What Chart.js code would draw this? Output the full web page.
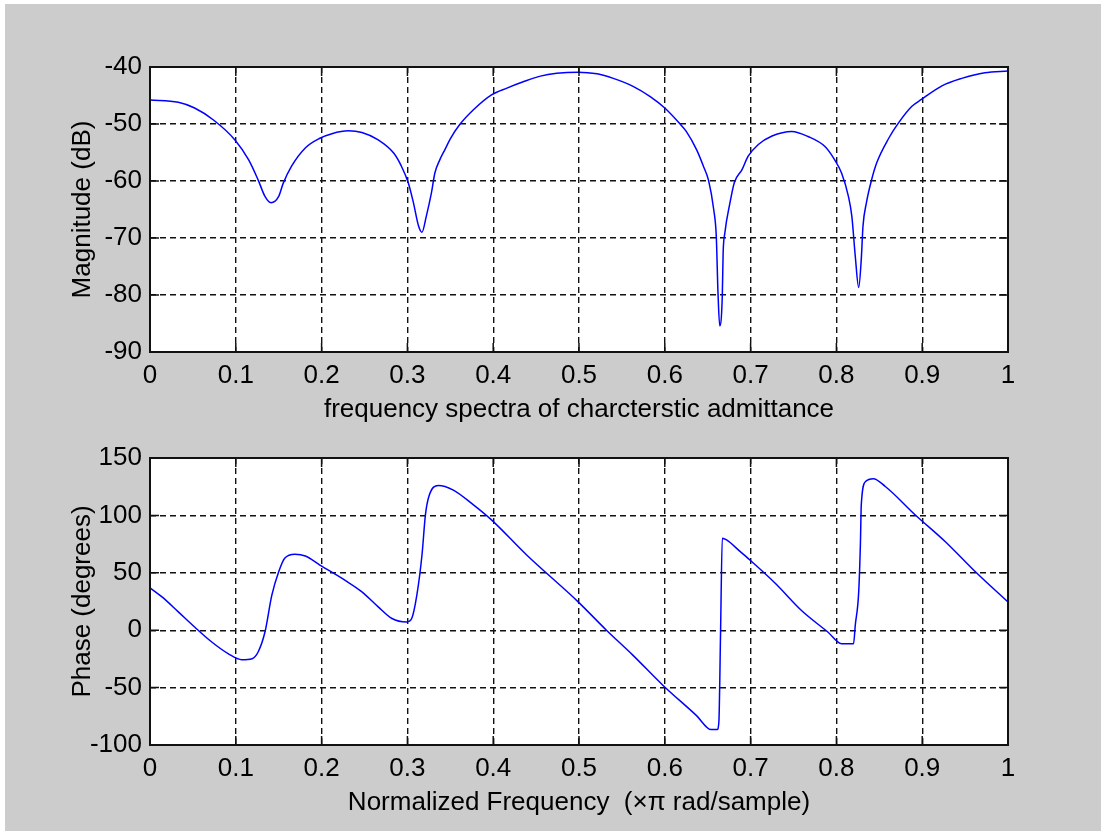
<!DOCTYPE html>
<html>
<head>
<meta charset="utf-8">
<title>frequency spectra</title>
<script src="https://cdn.jsdelivr.net/npm/chart.js@4.4.1/dist/chart.umd.min.js"></script>
<style>
  html, body { margin: 0; padding: 0; background: #fff; width: 1101px; height: 831px; overflow: hidden; }
  #fig { position: absolute; left: 5px; top: 4px; width: 1096px; height: 827px; background: #cccccc; }
  canvas { position: absolute; left: 0; }
  #mag { top: 0; }
  #phase { top: 430px; }
</style>
</head>
<body>
<div id="fig"></div>
<canvas id="mag" width="1101" height="430"></canvas>
<canvas id="phase" width="1101" height="401"></canvas>
<script>
// magnitude response (normalized frequency, dB)
const magFreq = [0, 0.033, 0.052, 0.074, 0.099, 0.115, 0.126, 0.134, 0.141, 0.150,
  0.155, 0.165, 0.181, 0.198, 0.212, 0.231, 0.247, 0.266, 0.284, 0.293,
  0.301, 0.307, 0.313, 0.317, 0.322, 0.328, 0.332, 0.338, 0.344, 0.350,
  0.361, 0.377, 0.398, 0.416, 0.435, 0.455, 0.474, 0.499, 0.521, 0.540,
  0.563, 0.583, 0.600, 0.616, 0.625, 0.637, 0.645, 0.651, 0.657, 0.660,
  0.662, 0.664, 0.667, 0.668, 0.670, 0.676, 0.681, 0.690, 0.697, 0.709,
  0.725, 0.748, 0.767, 0.787, 0.798, 0.806, 0.814, 0.818, 0.822, 0.826,
  0.829, 0.831, 0.835, 0.841, 0.847, 0.861, 0.872, 0.888, 0.899, 0.923,
  0.946, 0.973, 1.0];
const magDb = [-45.8, -46.2, -47.2, -49.3, -52.8, -56.3, -59.8, -62.7, -63.8, -62.7,
  -60.5, -57.4, -54.2, -52.5, -51.7, -51.2, -51.5, -52.8, -55.1, -57.4,
  -60.3, -63.8, -67.9, -69.0, -66.2, -62.1, -58.6, -56.2, -54.4, -52.6,
  -50.1, -47.5, -44.9, -43.7, -42.6, -41.6, -41.1, -40.9, -41.2, -42.0,
  -43.4, -45.2, -47.2, -49.7, -51.3, -54.5, -57.4, -59.9, -65.0, -69.7,
  -79.6, -85.4, -80.2, -72.6, -69.1, -63.8, -60.3, -58.0, -55.7, -53.6,
  -52.1, -51.3, -52.2, -54.0, -56.3, -58.6, -62.7, -66.2, -73.2, -78.7,
  -73.7, -67.9, -63.8, -59.8, -56.8, -52.5, -49.9, -46.9, -45.7, -43.3,
  -42.0, -41.0, -40.7];

// phase response (normalized frequency, degrees)
const phaseFreq = [0, 0.014, 0.033, 0.052, 0.072, 0.091, 0.107, 0.119, 0.126, 0.134,
  0.142, 0.150, 0.157, 0.169, 0.181, 0.198, 0.227, 0.247, 0.266, 0.282,
  0.299, 0.305, 0.311, 0.317, 0.321, 0.325, 0.336, 0.353, 0.377, 0.398,
  0.439, 0.499, 0.532, 0.563, 0.598, 0.637, 0.654, 0.661, 0.663, 0.665,
  0.667, 0.672, 0.688, 0.697, 0.729, 0.759, 0.790, 0.806, 0.820, 0.822,
  0.826, 0.828, 0.829, 0.834, 0.843, 0.857, 0.892, 0.927, 0.962, 1.0];
const phaseDeg = [36.9, 29, 16, 2.8, -10.3, -20.4, -25.7, -24.8, -19, -1.6,
  30.5, 50.9, 62.6, 66.1, 64.6, 56.7, 43.6, 33.4, 20.3, 10.2,
  7.2, 10.2, 30.5, 65.5, 100.4, 116.4, 126.1, 122.3, 109.2, 96.1,
  65.5, 24.7, 0, -21.9, -48.1, -74.4, -86.6, -86.6, -80.2, -1.6,
  80.1, 78.6, 68.4, 62.6, 40.7, 17.4, -1.6, -11.7, -11.7, 4.3,
  33.4, 75.7, 109.2, 129.5, 131.9, 125.2, 100.4, 77.1, 50.9, 24.5];

const FONT = { family: "'Liberation Sans', Arial, sans-serif", size: 26 };

// white axes area, black box and inward tick marks like MATLAB
const axesBox = {
  id: "axesBox",
  beforeDraw(chart) {
    const { ctx, chartArea: a } = chart;
    ctx.save();
    ctx.fillStyle = "#fff";
    ctx.fillRect(a.left, a.top, a.right - a.left, a.bottom - a.top);
    ctx.restore();
  },
  afterDraw(chart) {
    const { ctx, chartArea: a, scales } = chart;
    const len = 9;
    ctx.save();
    ctx.strokeStyle = "#111";
    ctx.lineWidth = 1.5;
    ctx.beginPath();
    scales.x.ticks.forEach((t, i) => {
      const px = scales.x.getPixelForTick(i);
      ctx.moveTo(px, a.top);
      ctx.lineTo(px, a.top + len);
      ctx.moveTo(px, a.bottom);
      ctx.lineTo(px, a.bottom - len);
    });
    scales.y.ticks.forEach((t, i) => {
      const py = scales.y.getPixelForTick(i);
      ctx.moveTo(a.left, py);
      ctx.lineTo(a.left + len, py);
      ctx.moveTo(a.right, py);
      ctx.lineTo(a.right - len, py);
    });
    ctx.stroke();
    ctx.lineWidth = 2;
    ctx.strokeRect(a.left, a.top, a.right - a.left, a.bottom - a.top);
    ctx.restore();
  },
};

function makeChart(canvasId, xs, ys, cfg) {
  return new Chart(document.getElementById(canvasId), {
    type: "line",
    data: {
      datasets: [
        {
          data: xs.map((x, i) => ({ x, y: ys[i] })),
          borderColor: "#0000ff",
          borderWidth: 1.5,
          pointRadius: 0,
          cubicInterpolationMode: "monotone",
        },
      ],
    },
    options: {
      responsive: false,
      animation: false,
      events: [],
      layout: { padding: { left: 0, right: 93, top: cfg.top, bottom: 0 } },
      plugins: { legend: { display: false }, tooltip: { enabled: false } },
      scales: {
        x: {
          type: "linear",
          min: 0,
          max: 1,
          ticks: {
            stepSize: 0.1,
            autoSkip: false,
            maxRotation: 0,
            color: "#000",
            font: FONT,
            padding: 8,
            callback: (v) => String(Math.round(v * 10) / 10),
          },
          grid: { color: "#111", lineWidth: 1.4, drawTicks: false },
          border: { display: false, dash: [6, 4] },
          title: {
            display: true,
            text: cfg.xTitle,
            color: "#000",
            font: FONT,
            padding: { top: cfg.xTitlePad, bottom: cfg.xTitlePad },
          },
          afterFit: (s) => {
            s.height = cfg.xAxisHeight;
          },
        },
        y: {
          type: "linear",
          min: cfg.yMin,
          max: cfg.yMax,
          ticks: {
            stepSize: cfg.yStep,
            color: "#000",
            font: FONT,
            padding: 8,
            callback: (v) => String(v),
          },
          grid: { color: "#111", lineWidth: 1.4, drawTicks: false },
          border: { display: false, dash: [6, 4] },
          title: {
            display: true,
            text: cfg.yTitle,
            color: "#000",
            font: FONT,
            padding: { top: 67, bottom: 67 },
          },
          afterFit: (s) => {
            s.width = 150;
          },
        },
      },
    },
    plugins: [axesBox],
  });
}

makeChart("mag", magFreq, magDb, {
  top: 67,
  xAxisHeight: 78,
  xTitlePad: 4.4,
  xTitle: "frequency spectra of charcterstic admittance",
  yTitle: "Magnitude (dB)",
  yMin: -90,
  yMax: -40,
  yStep: 10,
});

makeChart("phase", phaseFreq, phaseDeg, {
  top: 28,
  xAxisHeight: 86,
  xTitlePad: 12.4,
  xTitle: "Normalized Frequency  (\u00d7\u03c0 rad/sample)",
  yTitle: "Phase (degrees)",
  yMin: -100,
  yMax: 150,
  yStep: 50,
});
</script>
</body>
</html>
